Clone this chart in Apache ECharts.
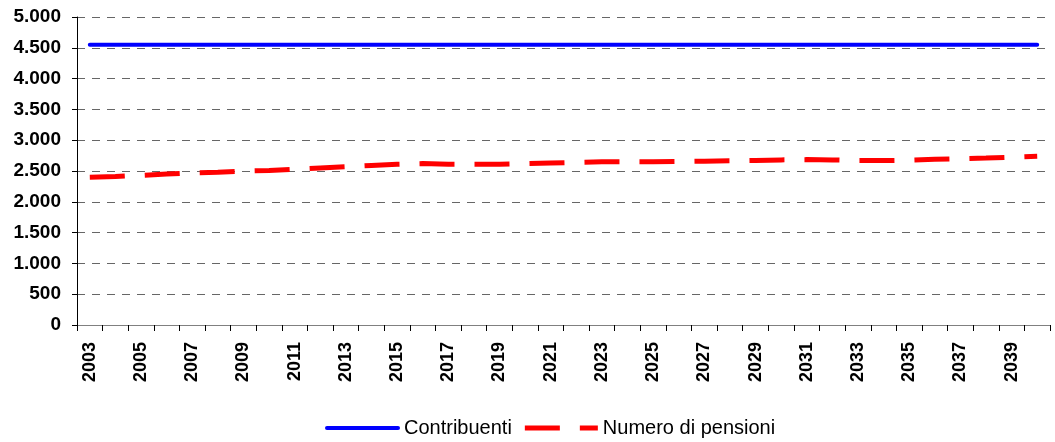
<!DOCTYPE html>
<html>
<head>
<meta charset="utf-8">
<script src="https://cdn.jsdelivr.net/npm/echarts@6/dist/echarts.min.js"></script>
<style>
    html, body { margin: 0; padding: 0; background: #fff; }
    #chart { width: 1055px; height: 442px; }
</style>
</head>
<body>
<div id="chart"></div>
<script>
    // anni 2003-2040
    var years = [];
    for (var y = 2003; y <= 2040; y++) years.push(String(y));

    var contribuenti = [
        4550, 4550, 4550, 4550, 4550, 4550, 4550, 4550, 4550, 4550,
        4550, 4550, 4550, 4550, 4550, 4550, 4550, 4550, 4550, 4550,
        4550, 4550, 4550, 4550, 4550, 4550, 4550, 4550, 4550, 4550,
        4550, 4550, 4550, 4550, 4550, 4550, 4550, 4550
    ];
    var pensioni = [
        2400, 2410, 2430, 2450, 2470, 2480, 2500, 2510, 2530, 2550,
        2570, 2590, 2610, 2620, 2610, 2610, 2610, 2620, 2630, 2640,
        2650, 2650, 2650, 2655, 2660, 2665, 2670, 2680, 2685, 2680,
        2670, 2670, 2675, 2690, 2700, 2710, 2725, 2740
    ];

    function fmt(v) {
        return String(v).replace(/\B(?=(\d{3})+(?!\d))/g, ".");
    }

    var chart = echarts.init(document.getElementById("chart"));
    chart.setOption({
        animation: false,
        textStyle: { fontFamily: "Liberation Sans, Arial, sans-serif" },
        grid: { left: 77, right: 5, top: 17, bottom: 117 },
        legend: {
            top: 413,
            left: 320,
            itemGap: 13,
            textStyle: { fontSize: 20, color: "#000", padding: [0, 0, 0, -1] },
            data: [
                {
                    name: "Contribuenti",
                    icon: "path://M2,0H73A2,2 0 0 1 73,4H2A2,2 0 0 1 2,0Z",
                    itemStyle: { color: "#0000ff" }
                },
                {
                    name: "Numero di pensioni",
                    icon: "path://M0,0H35V5H0ZM55,0H73V5H55Z",
                    itemStyle: { color: "#ff0000" }
                }
            ],
            itemWidth: 75,
            itemHeight: 5
        },
        xAxis: {
            type: "category",
            data: years,
            boundaryGap: true,
            axisLine: { lineStyle: { color: "#808080", width: 1 } },
            axisTick: { show: true, interval: 0, length: 6, lineStyle: { color: "#000" } },
            axisLabel: {
                rotate: 90,
                interval: 1,
                fontSize: 18,
                fontWeight: "bold",
                color: "#000",
                margin: 17
            },
            splitLine: { show: false }
        },
        yAxis: {
            type: "value",
            min: 0,
            max: 5000,
            interval: 500,
            axisLine: { show: true, lineStyle: { color: "#000" } },
            axisTick: { show: true, length: 5, lineStyle: { color: "#000" } },
            axisLabel: {
                fontSize: 19,
                fontWeight: "bold",
                color: "#000",
                margin: 16,
                formatter: fmt
            },
            splitLine: { lineStyle: { color: "#666", type: [8, 7], width: 1 } }
        },
        series: [
            {
                name: "Contribuenti",
                type: "line",
                data: contribuenti,
                symbol: "none",
                lineStyle: { color: "#0000ff", width: 4, cap: "round" },
                itemStyle: { color: "#0000ff" }
            },
            {
                name: "Numero di pensioni",
                type: "line",
                data: pensioni,
                symbol: "none",
                lineStyle: { color: "#ff0000", width: 5, type: [35, 20] },
                itemStyle: { color: "#ff0000" }
            }
        ]
    });
</script>
</body>
</html>
